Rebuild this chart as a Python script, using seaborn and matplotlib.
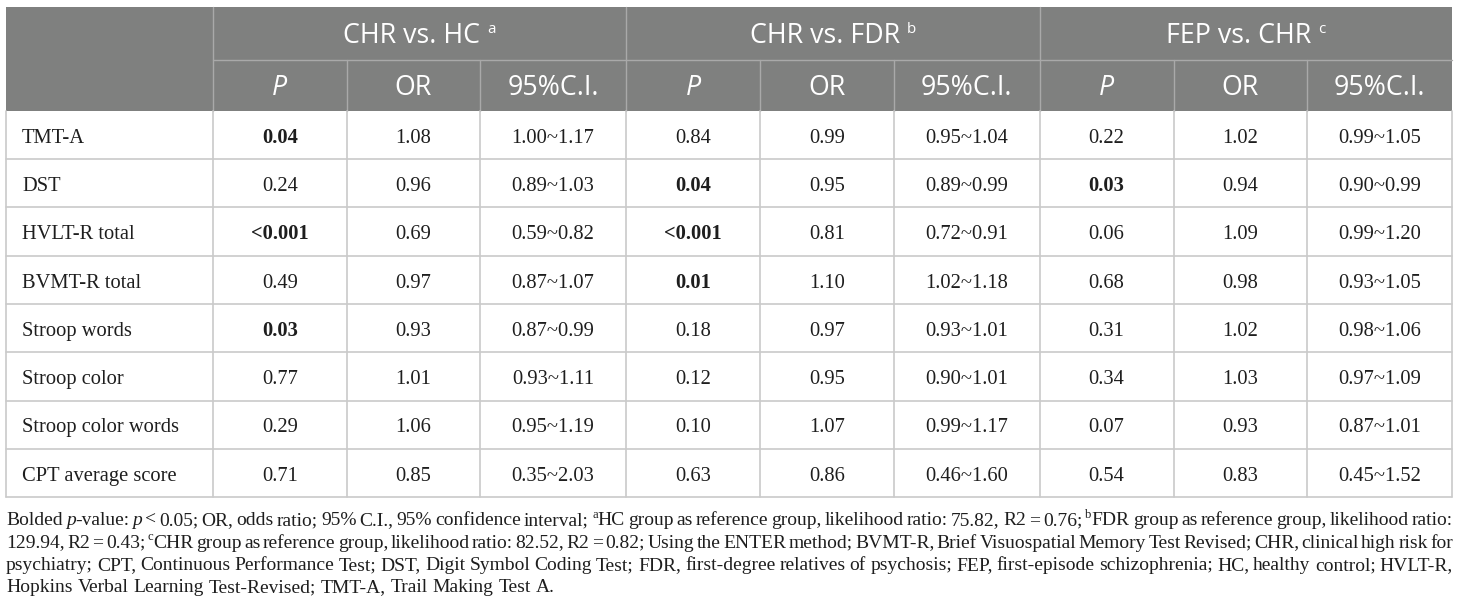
import re
import matplotlib
matplotlib.use("Agg")
import matplotlib.pyplot as plt
from matplotlib.patches import Rectangle
import seaborn as sns

# table data
measures = ["TMT-A", "DST", "HVLT-R total", "BVMT-R total", "Stroop words",
            "Stroop color", "Stroop color words", "CPT average score"]
groups = ["CHR vs. HC", "CHR vs. FDR", "FEP vs. CHR"]
group_sups = ["a", "b", "c"]
sub_cols = ["P", "OR", "95%C.I."]

p_hc = ["0.04", "0.24", "<0.001", "0.49", "0.03", "0.77", "0.29", "0.71"]
or_hc = ["1.08", "0.96", "0.69", "0.97", "0.93", "1.01", "1.06", "0.85"]
ci_hc = ["1.00~1.17", "0.89~1.03", "0.59~0.82", "0.87~1.07", "0.87~0.99", "0.93~1.11", "0.95~1.19", "0.35~2.03"]
p_fdr = ["0.84", "0.04", "<0.001", "0.01", "0.18", "0.12", "0.10", "0.63"]
or_fdr = ["0.99", "0.95", "0.81", "1.10", "0.97", "0.95", "1.07", "0.86"]
ci_fdr = ["0.95~1.04", "0.89~0.99", "0.72~0.91", "1.02~1.18", "0.93~1.01", "0.90~1.01", "0.99~1.17", "0.46~1.60"]
p_fep = ["0.22", "0.03", "0.06", "0.68", "0.31", "0.34", "0.07", "0.54"]
or_fep = ["1.02", "0.94", "1.09", "0.98", "1.02", "1.03", "0.93", "0.83"]
ci_fep = ["0.99~1.05", "0.90~0.99", "0.99~1.20", "0.93~1.05", "0.98~1.06", "0.97~1.09", "0.87~1.01", "0.45~1.52"]

footnote = [
    "Bolded *p*-value: *p* < 0.05; OR, odds ratio; 95% C.I., 95% confidence interval; ^aHC group as reference group, likelihood ratio: 75.82, R2 = 0.76; ^bFDR group as reference group, likelihood ratio:",
    "129.94, R2 = 0.43; ^cCHR group as reference group, likelihood ratio: 82.52, R2 = 0.82; Using the ENTER method; BVMT-R, Brief Visuospatial Memory Test Revised; CHR, clinical high risk for",
    "psychiatry; CPT, Continuous Performance Test; DST, Digit Symbol Coding Test; FDR, first-degree relatives of psychosis; FEP, first-episode schizophrenia; HC, healthy control; HVLT-R,",
    "Hopkins Verbal Learning Test-Revised; TMT-A, Trail Making Test A.",
]

columns = [(p_hc, or_hc, ci_hc), (p_fdr, or_fdr, ci_fdr), (p_fep, or_fep, ci_fep)]

# layout (pixels)
x_edges = [6, 212.5, 347, 480, 626, 760, 893.5, 1039.5, 1173.5, 1307, 1452]
y_top, y_mid, y_head = 7, 60, 110.7
row_h = 48.3
header_col = "#7f807f"
head_line = "#a9a9a9"
grid_line = "#cacaca"
txt_col = "#1e1e1e"
sans = "Open Sans"
serif = "Liberation Serif"

sns.set_theme(style="white")
plt.rcParams["font.family"] = [serif, "DejaVu Sans"]

fig = plt.figure(figsize=(14.6, 6.08), dpi=100)
ax = fig.add_axes([0, 0, 1, 1])
ax.set_xlim(0, 1460)
ax.set_ylim(608, 0)
ax.axis("off")

# header background
ax.add_patch(Rectangle((x_edges[0], y_top), x_edges[-1] - x_edges[0], y_head - y_top,
                       facecolor=header_col, edgecolor="none"))
# header lines
for g in range(3):
    x0 = x_edges[1 + 3 * g]
    ax.plot([x0, x0], [y_top, y_head], color=head_line, lw=1)
    for k in range(1, 3):
        xx = x_edges[1 + 3 * g + k]
        ax.plot([xx, xx], [y_mid, y_head], color=head_line, lw=1)
ax.plot([x_edges[1], x_edges[-1]], [y_mid, y_mid], color=head_line, lw=1)

fig.canvas.draw()
renderer = fig.canvas.get_renderer()


def text_width(t):
    return t.get_window_extent(renderer).width


# group headers with superscripts
head_size = 19.3
for g, name in enumerate(groups):
    cx = (x_edges[1 + 3 * g] + x_edges[4 + 3 * g]) / 2
    t1 = ax.text(0, 42.7, name, family=sans, fontsize=head_size, color="white", va="baseline", ha="left")
    t2 = ax.text(0, 33, group_sups[g], family=sans, fontsize=11, color="white", va="baseline", ha="left")
    w1, w2 = text_width(t1), text_width(t2)
    start = cx - (w1 + 7 + w2) / 2
    t1.set_x(start)
    t2.set_x(start + w1 + 7)
    for k, sc in enumerate(sub_cols):
        sx = (x_edges[1 + 3 * g + k] + x_edges[2 + 3 * g + k]) / 2
        ax.text(sx, 95, sc, family=sans, fontsize=head_size, color="white",
                va="baseline", ha="center", style="italic" if sc == "P" else "normal")

# body rows
y_bottom = y_head + row_h * len(measures)
for i, m in enumerate(measures):
    y0 = y_head + row_h * i
    yb = y0 + 32
    ax.text(x_edges[0] + 16, yb, m, family=serif, fontsize=14.8, color=txt_col, va="baseline", ha="left")
    for g, (pv, ov, cv) in enumerate(columns):
        vals = [pv[i], ov[i], cv[i]]
        bold = pv[i].startswith("<") or float(pv[i]) < 0.05
        for k, v in enumerate(vals):
            sx = (x_edges[1 + 3 * g + k] + x_edges[2 + 3 * g + k]) / 2
            ax.text(sx, yb, v, family=serif, fontsize=14.8, color=txt_col, va="baseline", ha="center",
                    weight="bold" if (k == 0 and bold) else "normal")
    ax.plot([x_edges[0], x_edges[-1]], [y0 + row_h, y0 + row_h], color=grid_line, lw=1.2)
for xx in x_edges:
    ax.plot([xx, xx], [y_head, y_bottom], color=grid_line, lw=1.2)

# footnote, justified lines
tok_re = re.compile(r"\*([^*]+)\*|\^(\w)|([^*^]+)")
fn_size = 14
baselines = [525, 547.5, 570, 592.5]
left, right = x_edges[0], x_edges[-1] + 1


def draw_word(word, x, y, draw=True):
    parts = []
    for it, sup, plain in tok_re.findall(word):
        if it:
            parts.append((it, "italic", 0, fn_size))
        elif sup:
            parts.append((sup, "normal", -7, fn_size * 0.65))
        else:
            parts.append((plain, "normal", 0, fn_size))
    cx = x
    for s, style, dy, size in parts:
        t = ax.text(cx, y + dy, s, family=serif, fontsize=size, style=style,
                    color=txt_col, va="baseline", ha="left")
        cx += text_width(t)
        if not draw:
            t.remove()
    return cx - x


space_t = ax.text(0, 0, "a a", family=serif, fontsize=fn_size)
aa = ax.text(0, 0, "aa", family=serif, fontsize=fn_size)
space_w = text_width(space_t) - text_width(aa)
space_t.remove()
aa.remove()

for li, line in enumerate(footnote):
    words = line.split(" ")
    widths = [draw_word(w, 0, -100, draw=False) for w in words]
    if li < len(footnote) - 1:
        gap = (right - left - sum(widths)) / (len(words) - 1)
    else:
        gap = space_w
    x = left
    for w, wd in zip(words, widths):
        draw_word(w, x, baselines[li])
        x += wd + gap

fig.savefig("out.png", dpi=100)
